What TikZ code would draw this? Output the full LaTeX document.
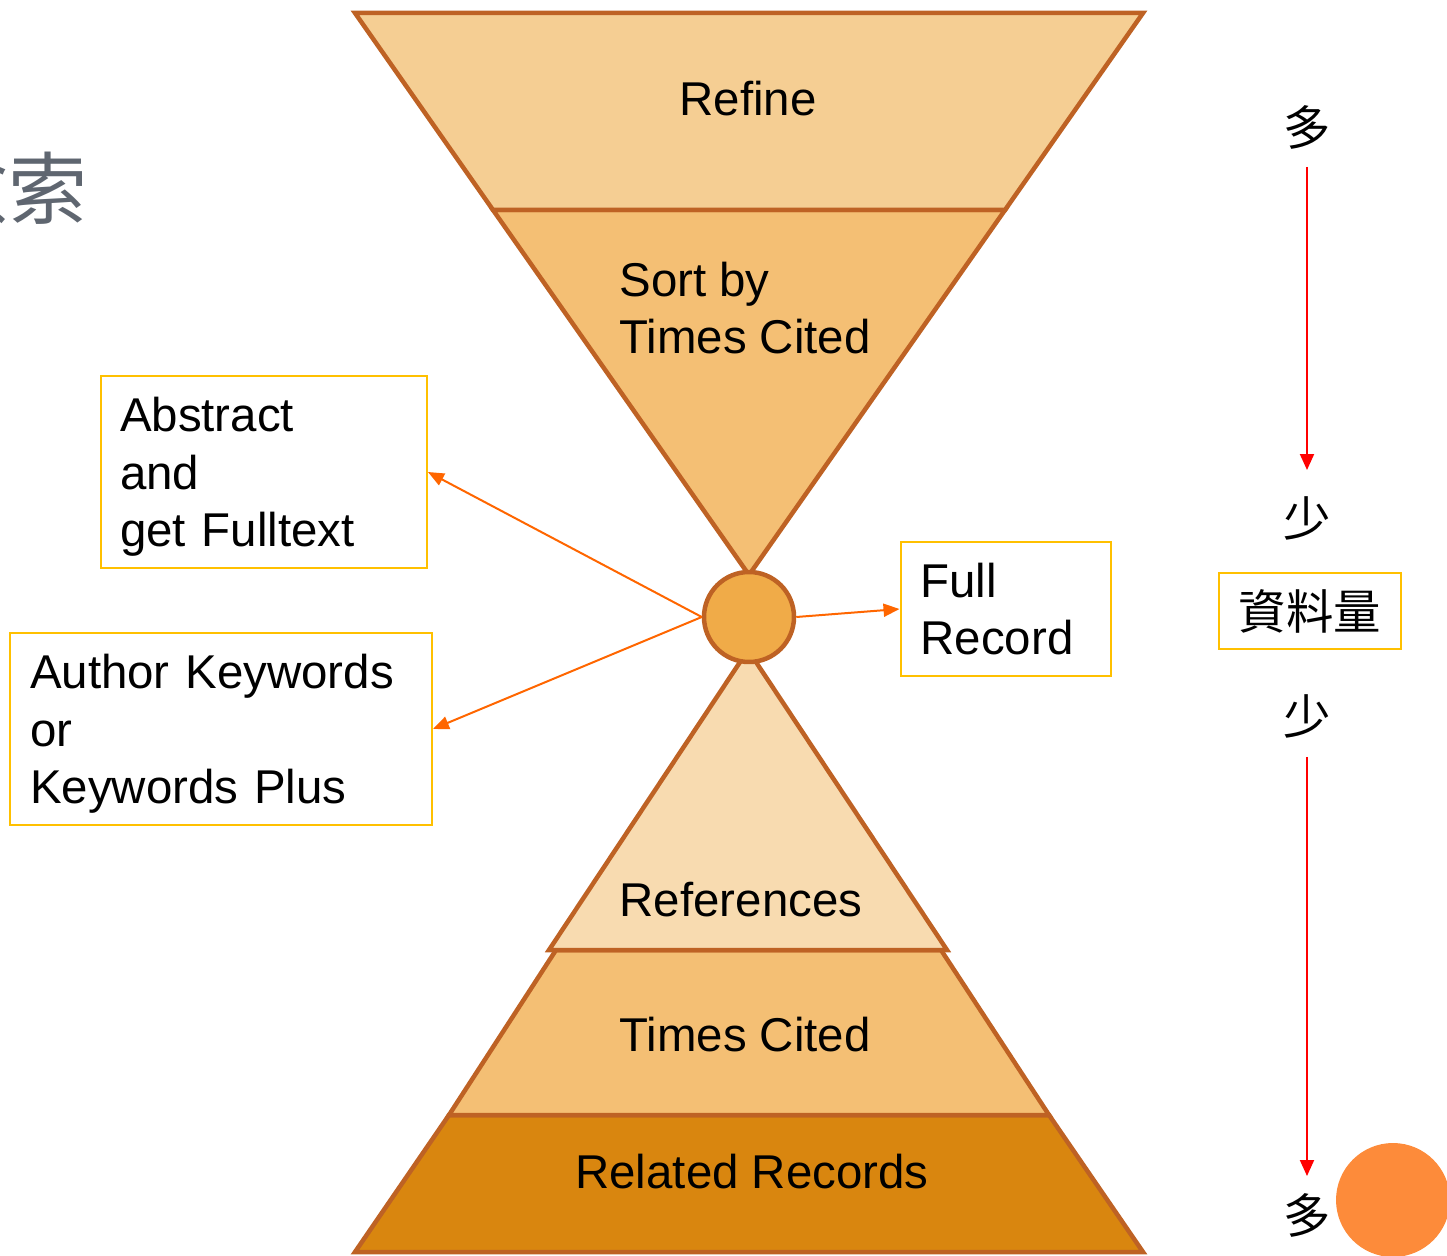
\documentclass[tikz,border=0pt]{standalone}
\usepackage{fontspec}
\setmainfont{Liberation Sans}
\newfontfamily\cjk{Noto Sans CJK TC}
\usetikzlibrary{arrows.meta}
\definecolor{funnelrim}{RGB}{190,98,36}
\definecolor{refinefill}{RGB}{245,206,147}
\definecolor{sortfill}{RGB}{244,191,116}
\definecolor{reffill}{RGB}{248,219,176}
\definecolor{relatedfill}{RGB}{217,134,15}
\definecolor{hubfill}{RGB}{240,171,72}
\definecolor{boxrim}{RGB}{255,192,0}
\definecolor{pointerorange}{RGB}{255,102,0}
\definecolor{titlegray}{RGB}{95,102,112}
\definecolor{dotorange}{RGB}{253,139,58}
\tikzset{pointer/.style = {-{Triangle[length=0.32cm,width=0.26cm]}, line width=0.04cm, pointerorange}}
\tikzset{flow/.style = {-{Triangle[length=0.32cm,width=0.28cm]}, line width=0.04cm, red}}

\begin{document}
\begin{tikzpicture}[x=0.02cm,y=-0.02cm,
    every node/.style={font={\fontsize{27}{32.7}\selectfont}},
    cjklabel/.style={font={\cjk\fontsize{27}{32}\selectfont}},
    layer/.style={draw=funnelrim,line width=0.09cm,line join=miter},
    box/.style={draw=boxrim,line width=0.04cm,align=left,inner ysep=0pt},
    ]
    \useasboundingbox (0,0) rectangle (1447,1256);

    % Title remnant
    \node[anchor=east,inner sep=0pt,text=titlegray,
          font={\cjk\fontsize{45}{45}\selectfont}] (title) at (88,188) {檢索};

    % Upper funnel
    \filldraw[layer,fill=sortfill] (493,210) -- (1005,210) -- (749,575) -- cycle;
    \filldraw[layer,fill=refinefill] (355,13) -- (1143,13) -- (1005,210) -- (493,210) -- cycle;

    % Lower funnel
    \filldraw[layer,fill=relatedfill] (449,1115) -- (1049,1115) -- (1143,1252) -- (355,1252) -- cycle;
    \filldraw[layer,fill=sortfill] (556,950) -- (941,950) -- (1049,1115) -- (449,1115) -- cycle;
    \filldraw[layer,fill=reffill] (748,650) -- (947,950) -- (549,950) -- cycle;

    % Neck
    \node[circle,draw=funnelrim,fill=hubfill,line width=0.09cm,
          minimum size=1.8cm,inner sep=0pt] (hub) at (749,617) {};

    % Layer names
    \node (refine) at (748,99) {Refine};
    \node[align=left] (sortby) at (745,308) {Sort by\\Times Cited};
    \node (refs) at (741,900) {References};
    \node (cited) at (745,1035) {Times Cited};
    \node (related) at (752,1172) {Related Records};

    % Side boxes
    \node[box,inner xsep=0.38cm,text width=5.76cm,text depth=65.4pt,minimum height=3.84cm] (abs) at (264,472)
        {Abstract\\and\\get Fulltext};
    \node[box,inner xsep=0.4cm,text width=7.64cm,text depth=65.4pt,minimum height=3.84cm] (kw) at (221,729)
        {Author Keywords\\or\\Keywords Plus};
    \node[box,inner xsep=0.4cm,text width=3.42cm,minimum height=2.7cm] (full) at (1006,609)
        {Full\\Record};

    \draw[pointer] (hub.west) -- (abs.east);
    \draw[pointer] (hub.west) -- (kw.east);
    \draw[pointer] (hub.east) -- (full.west);

    % Amount scale
    \node[cjklabel] (many1) at (1307,127) {多};
    \node[cjklabel] (few1) at (1307,518) {少};
    \node[box,cjklabel,minimum width=3.64cm,minimum height=1.52cm] (amount) at (1310,611) {資料量};
    \node[cjklabel] (few2) at (1307,716) {少};
    \node[cjklabel] (many2) at (1307,1215) {多};

    \draw[flow,shorten <=0.8cm,shorten >=0.96cm] (many1.center) -- (few1.center);
    \draw[flow,shorten <=0.82cm,shorten >=0.78cm] (few2.center) -- (many2.center);

    % Corner dot
    \fill[dotorange] (1393,1200) circle (1.14cm);

\end{tikzpicture}
\end{document}
